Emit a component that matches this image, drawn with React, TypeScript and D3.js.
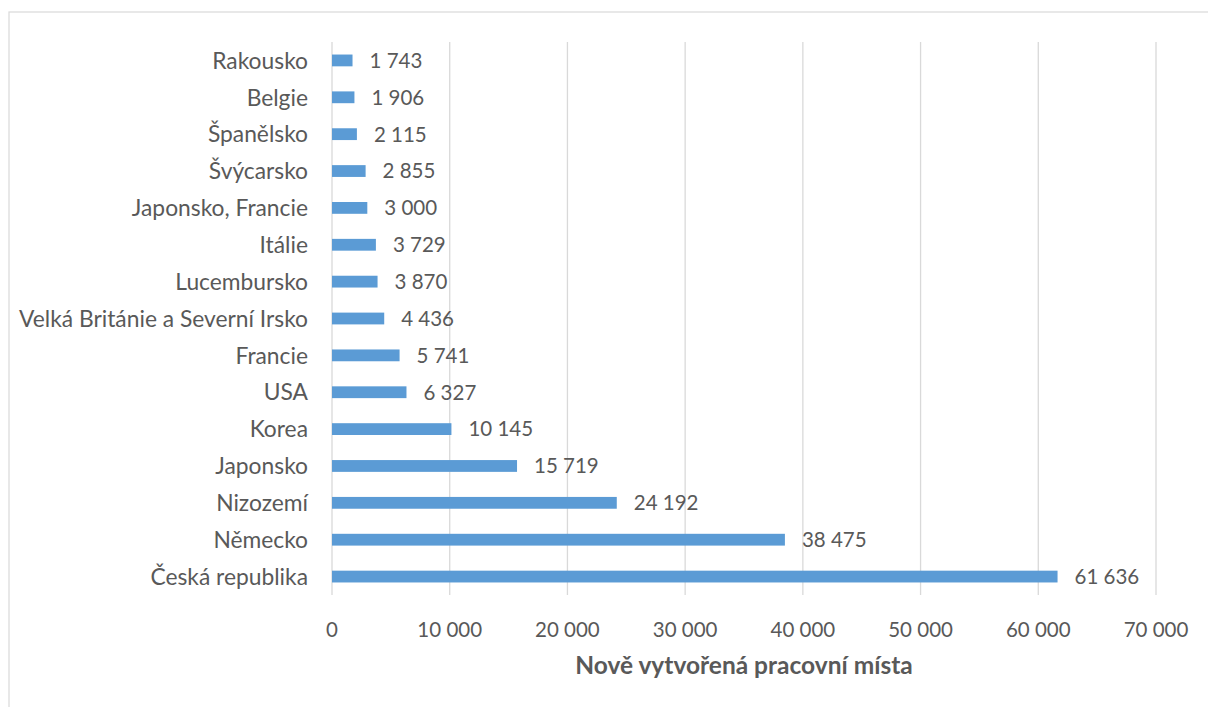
import React from "react";
import * as d3 from "d3";

const categories = [
  "Rakousko",
  "Belgie",
  "Španělsko",
  "Švýcarsko",
  "Japonsko, Francie",
  "Itálie",
  "Lucembursko",
  "Velká Británie a Severní Irsko",
  "Francie",
  "USA",
  "Korea",
  "Japonsko",
  "Nizozemí",
  "Německo",
  "Česká republika",
];
const values = [1743, 1906, 2115, 2855, 3000, 3729, 3870, 4436, 5741, 6327, 10145, 15719, 24192, 38475, 61636];
const xTicks = [0, 10000, 20000, 30000, 40000, 50000, 60000, 70000];
const axisTitle = "Nově vytvořená pracovní místa";

const W = 1208;
const H = 707;
const FONT = "Lato, 'Open Sans', sans-serif";
const TEXT = "#595959";

const fmt = (v: number) => d3.format(",")(v).replace(/,/g, " ");

export default function App() {
  const left = 332;
  const right = 1156;
  const top = 42;
  const bottom = 595;
  const x = d3.scaleLinear().domain([0, 70000]).range([left, right]);
  const y = d3.scaleBand<string>().domain(categories).range([top, bottom]).paddingInner(0.68).paddingOuter(0.34);
  const bw = y.bandwidth();
  return (
    <svg width={W} height={H} style={{ position: "absolute", left: 0, top: 0, background: "#fff" }} fontFamily={FONT}>
      <rect x={9} y={12} width={W + 10} height={H + 10} fill="#fff" stroke="#D9D9D9" strokeWidth={1.2} />
      {xTicks.map((t) => (
        <line key={"g" + t} x1={x(t)} x2={x(t)} y1={top} y2={bottom} stroke="#D9D9D9" strokeWidth={1.3} />
      ))}
      {categories.map((c, i) => (
        <g key={c}>
          <rect x={x(0)} y={y(c)!} width={x(values[i]) - x(0)} height={bw} fill="#5B9BD5" />
          <text x={x(values[i]) + 17} y={y(c)! + bw / 2} dy="0.36em" fontSize={20.5} fill={TEXT}>
            {fmt(values[i])}
          </text>
          <text x={left - 24} y={y(c)! + bw / 2} dy="0.36em" fontSize={22.8} fill={TEXT} textAnchor="end">
            {c}
          </text>
        </g>
      ))}
      {xTicks.map((t) => (
        <text key={"t" + t} x={x(t)} y={630} dy="0.36em" fontSize={20.5} fill={TEXT} textAnchor="middle">
          {fmt(t)}
        </text>
      ))}
      <text x={(left + right) / 2} y={665} dy="0.36em" fontSize={24.5} fontWeight="bold" fill={TEXT} textAnchor="middle">
        {axisTitle}
      </text>
    </svg>
  );
}
